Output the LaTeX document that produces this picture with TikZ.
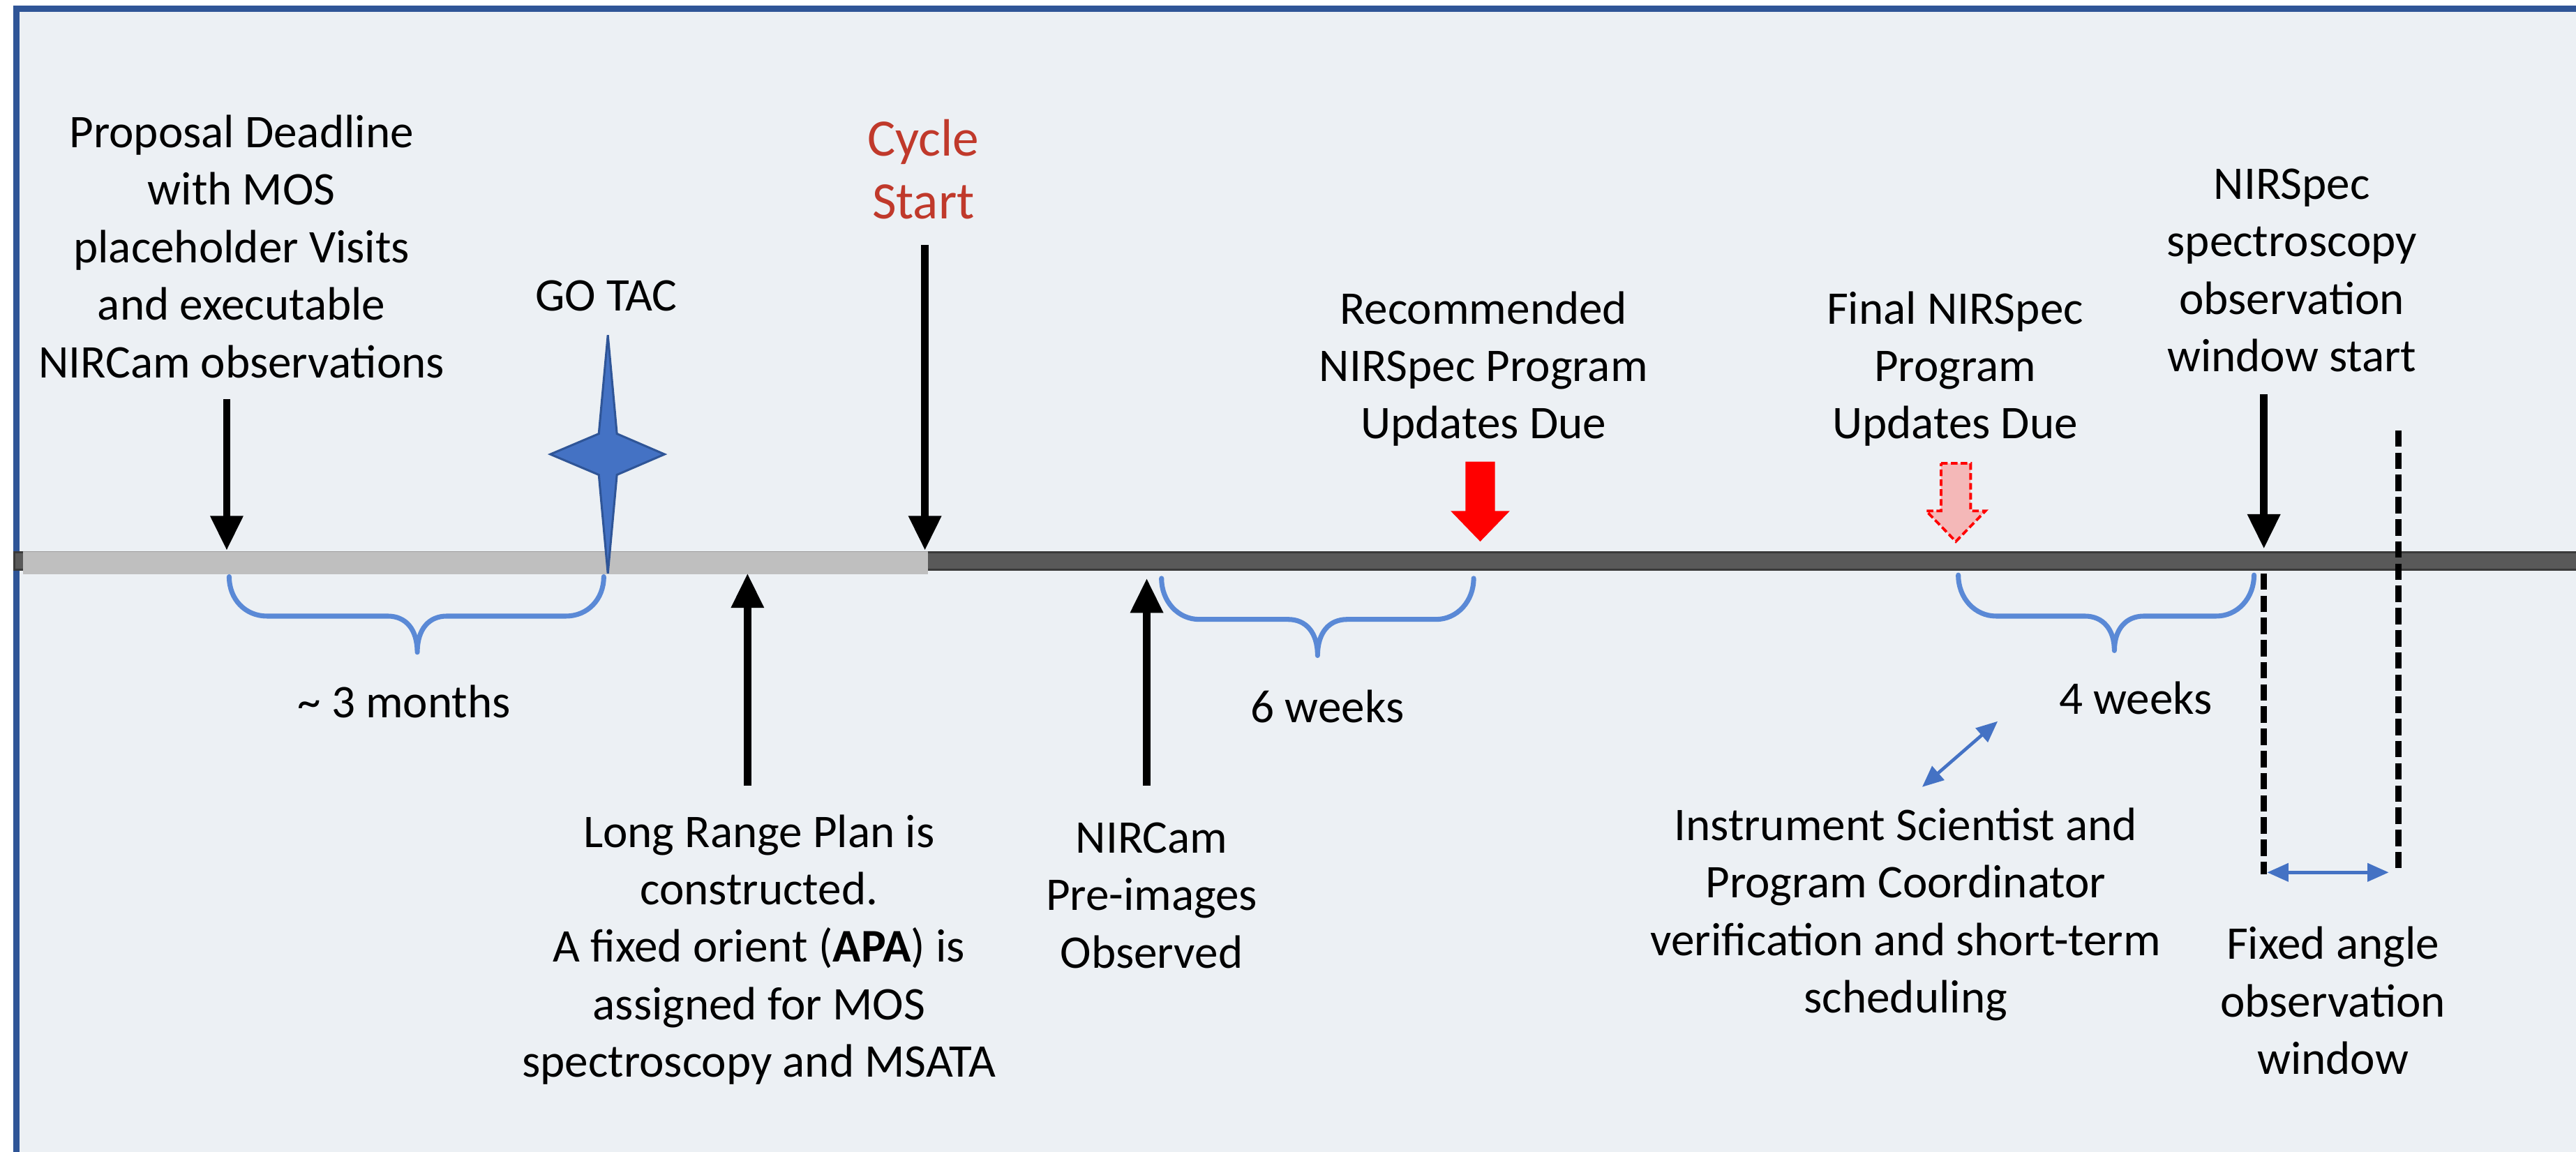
\documentclass[tikz,border=0pt]{standalone}
\usepackage{fontspec}
\setmainfont{Carlito}
\usetikzlibrary{arrows.meta}
\definecolor{bg}{RGB}{236,240,244}
\definecolor{framecol}{RGB}{47,85,151}
\definecolor{starblue}{RGB}{68,114,196}
\definecolor{bracecol}{RGB}{90,137,214}
\definecolor{darkbar}{RGB}{89,89,89}
\definecolor{darkedge}{RGB}{58,58,58}
\definecolor{lightbar}{RGB}{191,191,191}
\definecolor{cyclered}{RGB}{192,57,43}
\definecolor{pinkfill}{RGB}{244,184,184}
\newcommand{\tlbrace}[6]{% x1, x2, mid, top, flat, tip
  \draw[bracestyle] (#1,#4) .. controls (#1,{#4+14}) and ({#1+10},#5) .. ({#1+23},#5) -- ({#3-18},#5)
    .. controls ({#3-7},#5) and (#3,{#5+8}) .. (#3,#6)
    .. controls (#3,{#5+8}) and ({#3+7},#5) .. ({#3+18},#5) -- ({#2-23},#5)
    .. controls ({#2-10},#5) and (#2,{#4+14}) .. (#2,#4);}
\begin{document}
\begin{tikzpicture}[x=1pt,y=-1pt,
  lbl/.style={align=center,inner sep=0pt,font=\fontsize{28.5}{35}\selectfont},
  blackarrow/.style={line width=4.5pt,-{Triangle[width=19pt,length=21pt]}},
  bracestyle/.style={draw=bracecol,line width=3pt,line cap=round,line join=round},
  bluearrow/.style={draw=starblue,line width=2pt,{Triangle[width=11pt,length=13pt]}-{Triangle[width=11pt,length=13pt]}},
  vdash/.style={line width=4pt,dash pattern=on 10pt off 3.5pt}
]
\useasboundingbox (0,0) rectangle (1568,701);
\fill[white] (0,0) rectangle (1568,701);
\fill[bg] (8,3.4) rectangle (1568,701);
\fill[framecol] (8,3.4) rectangle (12,701);
\fill[framecol] (8,3.4) rectangle (1568,7.2);

% timeline
\draw[darkedge, fill=darkbar, line width=1.3pt] (8.6,336.2) rectangle (1572,346.8);
\fill[lightbar] (14,335.5) rectangle (565,349.5);
\draw[black!38, line width=0.6pt] (14,335.8) -- (565,335.8);

% star (GO TAC)
\filldraw[fill=starblue, draw=framecol, line width=1.3pt]
  (370,204) -- (375.5,264) -- (404.5,276.5) -- (375.5,289) -- (370,349)
  -- (364.5,289) -- (335,276.5) -- (364.5,264) -- cycle;

% labels
\node[lbl] (prop) at (147,150) {Proposal Deadline\\with MOS\\placeholder Visits\\and executable\\NIRCam observations};
\node[lbl] (gotac) at (369,180) {GO TAC};
\node[lbl, text=cyclered, font=\fontsize{32}{38}\selectfont] (cycle) at (562,103) {Cycle\\Start};
\node[lbl] (recom) at (903,224.5) {Recommended\\NIRSpec Program\\Updates Due};
\node[lbl] (final) at (1190,224.5) {Final NIRSpec\\Program\\Updates Due};
\node[lbl] (nsstart) at (1395,164.5) {NIRSpec\\spectroscopy\\observation\\window start};
\node[lbl] (m3) at (246,427) {\textasciitilde{} 3 months};
\node[lbl] (w6) at (808,430) {6 weeks};
\node[lbl] (w4) at (1300,425) {4 weeks};
\node[lbl] (lrp) at (462,578) {Long Range Plan is\\constructed.\\A fixed orient (\textbf{APA}) is\\assigned for MOS\\spectroscopy and MSATA};
\node[lbl] (nircam) at (701,545) {NIRCam\\Pre-images\\Observed};
\node[lbl] (isc) at (1160,556.5) {Instrument Scientist and\\Program Coordinator\\verification and short-term\\scheduling};
\node[lbl] (fixed) at (1420,609) {Fixed angle\\observation\\window};

% black arrows
\coordinate (pdA) at (138,243); \coordinate (pdB) at (138,335);
\draw[blackarrow] (pdA) -- (pdB);
\coordinate (csA) at (563,149); \coordinate (csB) at (563,335);
\draw[blackarrow] (csA) -- (csB);
\coordinate (lrA) at (455,478); \coordinate (lrB) at (455,349);
\draw[blackarrow] (lrA) -- (lrB);
\coordinate (ncA) at (698,478); \coordinate (ncB) at (698,352);
\draw[blackarrow] (ncA) -- (ncB);
\coordinate (nsA) at (1378,240); \coordinate (nsB) at (1378,334);
\draw[blackarrow] (nsA) -- (nsB);

% red block arrows
\fill[red] (892,281) -- (910,281) -- (910,311) -- (919,311) -- (901,329.6)
  -- (883,311) -- (892,311) -- cycle;
\filldraw[fill=pinkfill, draw=red, line width=1.6pt, dash pattern=on 4pt off 2pt]
  (1181.5,282) -- (1199.5,282) -- (1199.5,311) -- (1208.5,311) -- (1190.5,329.6)
  -- (1172.5,311) -- (1181.5,311) -- cycle;

% dashed window lines
\coordinate (wlA) at (1378,349); \coordinate (wlB) at (1378,532);
\coordinate (wrA) at (1460,262); \coordinate (wrB) at (1460,532);
\draw[vdash] (wlA) -- (wlB);
\draw[vdash] (wrA) -- (wrB);

% blue double arrows
\coordinate (haA) at (1380,531); \coordinate (haB) at (1454,531);
\draw[bluearrow] (haA) -- (haB);
\coordinate (daA) at (1170,479); \coordinate (daB) at (1216,439);
\draw[bluearrow] (daA) -- (daB);

% braces
\tlbrace{139.5}{367.5}{254}{351}{375}{397}
\tlbrace{707}{897}{802}{352}{377}{399}
\tlbrace{1192}{1372}{1287}{350}{375}{396}
\end{tikzpicture}
\end{document}
